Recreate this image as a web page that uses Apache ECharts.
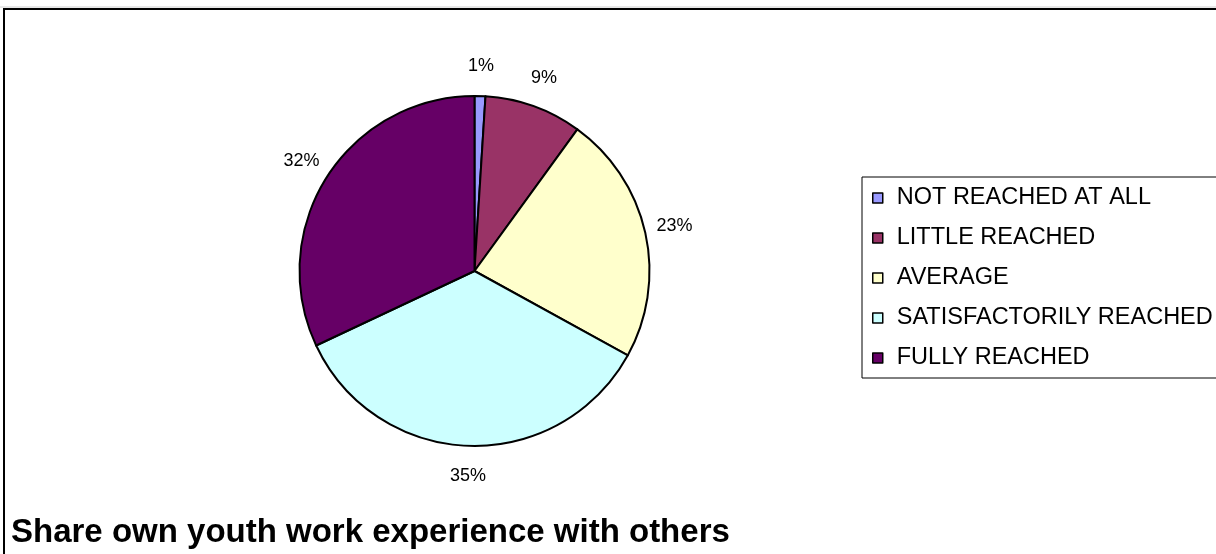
<!DOCTYPE html>
<html>
<head>
<meta charset="utf-8">
<script src="https://cdn.jsdelivr.net/npm/echarts@6/dist/echarts.min.js"></script>
<style>
  html, body { margin: 0; padding: 0; background: #fff; }
  #chart { width: 1216px; height: 554px; }
</style>
</head>
<body>
<div id="chart"></div>
<script>
// Answer categories and their shares (percent)
const categories = [
  'NOT REACHED AT ALL',
  'LITTLE REACHED',
  'AVERAGE',
  'SATISFACTORILY REACHED',
  'FULLY REACHED'
];
const shares = [1, 9, 23, 35, 32];
const sliceColors = ['#9999FF', '#993366', '#FFFFCC', '#CCFFFF', '#660066'];
const chartTitle = 'Share own youth work experience with others';

const FONT = 'Arial, "Liberation Sans", sans-serif';
const CENTER = [474.5, 271];
const R = 175;

const chart = echarts.init(document.getElementById('chart'), null, { renderer: 'canvas' });

chart.setOption({
  animation: false,
  backgroundColor: '#ffffff',
  title: {
    text: chartTitle,
    left: 6,
    top: 511,
    textStyle: { fontFamily: FONT, fontSize: 33, fontWeight: 'bold', color: '#000' }
  },
  legend: {
    orient: 'vertical',
    left: 862,
    top: 177,
    padding: [9, 120, 8, 10],
    itemGap: 16,
    itemWidth: 10,
    itemHeight: 10,
    icon: 'rect',
    align: 'left',
    borderColor: '#000',
    borderWidth: 1,
    selectedMode: false,
    itemStyle: { borderColor: '#000', borderWidth: 1.5 },
    textStyle: { fontFamily: FONT, fontSize: 23.5, lineHeight: 24, color: '#000', padding: [0, 0, 0, 9] },
    data: categories
  },
  graphic: [
    {
      type: 'rect',
      shape: { x: 4, y: 9, width: 1400, height: 700 },
      style: { fill: 'none', stroke: '#000', lineWidth: 2 },
      silent: true
    },
    {
      type: 'line',
      shape: { x1: 0, y1: 7, x2: 1216, y2: 7 },
      style: { stroke: '#d0d0d0', lineWidth: 1 },
      silent: true
    }
  ],
  series: [
    {
      name: 'share',
      type: 'pie',
      center: CENTER,
      radius: R,
      startAngle: 90,
      clockwise: true,
      avoidLabelOverlap: false,
      label: { show: false },
      labelLine: { show: false },
      itemStyle: { borderColor: '#000', borderWidth: 2 },
      emphasis: { disabled: true },
      data: categories.map((name, i) => ({
        name: name,
        value: shares[i],
        itemStyle: { color: sliceColors[i] }
      }))
    },
    {
      // transparent ring used only to place the percentage labels around the pie
      name: 'labels',
      type: 'pie',
      center: CENTER,
      radius: [R, R + 54],
      startAngle: 90,
      clockwise: true,
      silent: true,
      avoidLabelOverlap: false,
      itemStyle: { color: 'rgba(0,0,0,0)', borderWidth: 0 },
      label: {
        show: true,
        position: 'inside',
        formatter: '{c}%',
        fontFamily: FONT,
        fontSize: 18,
        color: '#000'
      },
      labelLine: { show: false },
      emphasis: { disabled: true },
      data: shares.map(v => ({ value: v }))
    }
  ]
});
</script>
</body>
</html>
